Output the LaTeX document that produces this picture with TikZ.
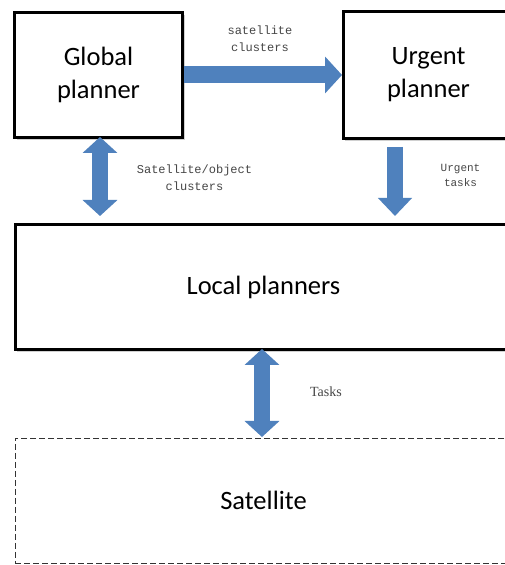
\documentclass[tikz,border=0pt]{standalone}
\usepackage{fontspec}
\setmainfont{Carlito}
\newfontfamily\labelmono{Liberation Mono}
\newfontfamily\labelserif{Liberation Serif}
\usetikzlibrary{arrows.meta,shadows}
\definecolor{arrowblue}{RGB}{79,129,189}
\definecolor{labelgray}{RGB}{70,70,70}
\tikzset{
  planbox/.style={draw=black, line width=3pt, fill=white, align=center,
    font=\fontsize{26.5}{33}\selectfont, inner sep=0pt,
    drop shadow={shadow xshift=2pt, shadow yshift=-3pt, fill=black!30, opacity=0.6}},
  satbox/.style={draw=black!80, line width=0.9pt, dash pattern=on 6pt off 3pt,
    align=center, font=\fontsize{26.5}{33}\selectfont, inner sep=0pt},
  blockarrow/.style={draw=arrowblue, line width=17pt,
    -{Triangle[width=36pt,length=17pt]}},
  dblarrow/.style={draw=arrowblue, line width=16pt,
    {Triangle[width=34pt,length=16pt]}-{Triangle[width=34pt,length=16pt]}},
  monolabel/.style={font=\labelmono\fontsize{12}{17}\selectfont, text=labelgray, align=center, inner sep=0pt},
  smallmono/.style={font=\labelmono\fontsize{11}{15}\selectfont, text=labelgray, align=center, inner sep=0pt},
  seriflabel/.style={font=\labelserif\fontsize{14}{16}\selectfont, text=labelgray, inner sep=0pt}
}
\begin{document}
\begin{tikzpicture}[x=1pt,y=1pt]
\useasboundingbox (0,0) rectangle (505,565);
\clip (0,0) rectangle (505,565);
\fill[white] (0,0) rectangle (505,565);
\node[planbox, minimum width=168pt, minimum height=125pt] (gp) at (98.5,490) {Global\\planner};
\node[planbox, minimum width=171pt, minimum height=127pt] (up) at (428.5,490) {Urgent\\planner};
\node[planbox, minimum width=497pt, minimum height=125pt] (lp) at (263.5,278) {Local planners};
\node[satbox, minimum width=497pt, minimum height=125pt] (sat) at (263.5,64.5) {Satellite};
% arrows
\draw[blockarrow] ([xshift=-0.5pt]gp.east) -- ([xshift=0.5pt]up.west);
\coordinate (a1s) at (100,428);
\coordinate (a1e) at (100,349);
\draw[dblarrow] (a1s) -- (a1e);
\coordinate (a2s) at (395,418);
\coordinate (a2e) at (395,349);
\draw[blockarrow, line width=16pt, -{Triangle[width=33pt,length=18pt]}] (a2s) -- (a2e);
\coordinate (a3s) at (262,216);
\coordinate (a3e) at (262,128);
\draw[dblarrow] (a3s) -- (a3e);
% labels
\node[monolabel] (l1) at (260,526) {satellite\\clusters};
\node[monolabel] (l2) at (194.5,387) {Satellite/object\\clusters};
\node[smallmono] (l3) at (460.5,390) {Urgent\\tasks};
\node[seriflabel] (l4) at (326,173) {Tasks};
\end{tikzpicture}
\end{document}
